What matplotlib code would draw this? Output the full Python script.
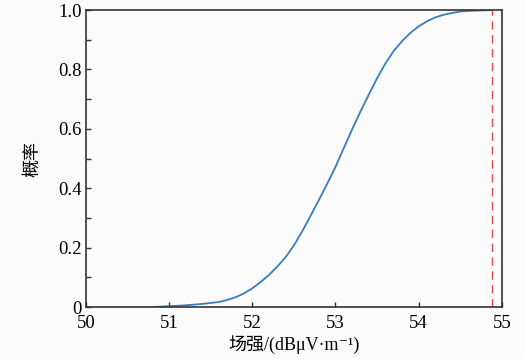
import numpy as np
import matplotlib
matplotlib.use('Agg')
import matplotlib.pyplot as plt
from matplotlib.ticker import MultipleLocator

# field strength (dBuV/m) and cumulative probability
field = [50.8, 51.0, 51.15, 51.3, 51.45, 51.6, 51.7, 51.8, 51.9, 52.0,
         52.1, 52.2, 52.3, 52.4, 52.5, 52.6, 52.7, 52.8, 52.9, 53.0,
         53.1, 53.2, 53.3, 53.4, 53.5, 53.6, 53.7, 53.8, 53.9, 54.0,
         54.1, 54.2, 54.3, 54.4, 54.5, 54.6, 54.88]
prob = [0.0, 0.003, 0.005, 0.008, 0.012, 0.017, 0.024, 0.033, 0.046, 0.063,
        0.084, 0.108, 0.136, 0.168, 0.207, 0.255, 0.307, 0.36, 0.415, 0.472,
        0.535, 0.598, 0.658, 0.715, 0.77, 0.82, 0.862, 0.895, 0.923, 0.945,
        0.962, 0.975, 0.984, 0.99, 0.995, 0.997, 1.0]
threshold = 54.88

xticks = [50, 51, 52, 53, 54, 55]
yticks = [0, 0.2, 0.4, 0.6, 0.8, 1.0]
ytick_labels = ['0', '0.2', '0.4', '0.6', '0.8', '1.0']

serif = ['Liberation Serif', 'Noto Sans CJK SC', 'DejaVu Sans']

fig = plt.figure(figsize=(5.26, 3.59), dpi=100, facecolor='#fbfbfb')
ax = fig.add_axes([0.1635, 0.1448, 0.7905, 0.8273])
ax.set_facecolor('#fbfbfb')

ax.plot(field, prob, color='#3a7bbf', lw=1.3)
ax.axvline(threshold, color='#e8474a', lw=1.0, ls=(0, (6, 4)))

ax.set_xlim(50, 55)
ax.set_ylim(0, 1)
ax.set_xticks(xticks)
ax.set_xticklabels([str(t) for t in xticks], family=serif, fontsize=13.5)
ax.set_yticks(yticks)
ax.set_yticklabels(ytick_labels, family=serif, fontsize=13.5)
ax.yaxis.set_minor_locator(MultipleLocator(0.1))
ax.tick_params(which='both', direction='in', length=3.5, width=1.0,
               color='#333333', pad=3)
ax.tick_params(axis='x', pad=6)

for sp in ax.spines.values():
    sp.set_color('#333333')
    sp.set_linewidth(1.2)

ax.set_xlabel('场强/(dBμV·m⁻¹)', family=serif, fontsize=13, labelpad=2)
ax.set_ylabel('概率', family=serif, fontsize=13, labelpad=12)

fig.savefig('out.png', dpi=100, facecolor=fig.get_facecolor())
